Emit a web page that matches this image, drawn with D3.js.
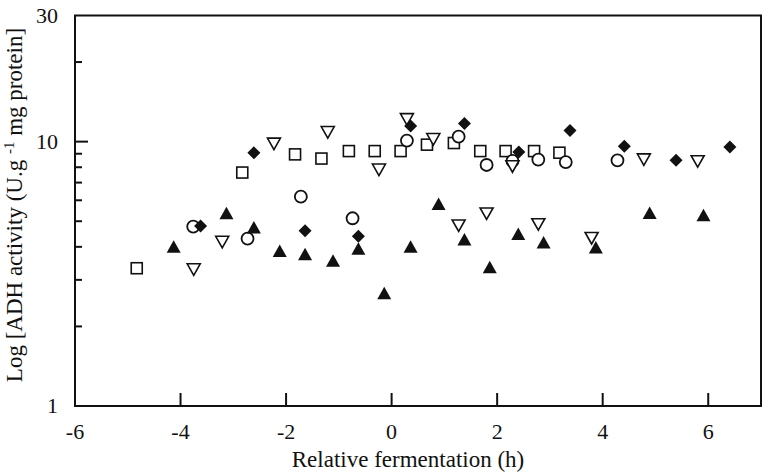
<!DOCTYPE html>
<html>
<head>
<meta charset="utf-8">
<script src="https://cdn.jsdelivr.net/npm/d3@7"></script>
<style>
  body { margin: 0; background: #fff; }
  svg { display: block; }
  svg text { font-family: "Liberation Serif", "DejaVu Serif", serif; fill: #111; }
  .tick-label { font-size: 22px; }
  .axis-title { font-size: 23px; }
</style>
</head>
<body>
<div id="chart"></div>
<script>
// Relative fermentation (h) and ADH activity, one array pair per series
const squareX = [-4.83, -2.83, -1.83, -1.33, -0.81, -0.32, 0.17, 0.67, 1.18, 1.68, 2.16, 2.70, 3.18];
const squareY = [3.32, 7.64, 8.95, 8.63, 9.21, 9.21, 9.21, 9.74, 9.88, 9.21, 9.21, 9.21, 9.08];

const circleX = [-3.76, -2.73, -1.72, -0.74, 0.29, 1.27, 1.80, 2.29, 2.78, 3.30, 4.28];
const circleY = [4.77, 4.30, 6.19, 5.13, 10.09, 10.44, 8.16, 8.45, 8.55, 8.37, 8.50];

const downTriX = [-3.75, -3.21, -2.23, -1.21, -0.24, 0.29, 0.79, 1.27, 1.80, 2.29, 2.78, 3.79, 4.78, 5.80];
const downTriY = [3.29, 4.18, 9.83, 10.87, 7.84, 12.17, 10.23, 4.82, 5.35, 8.07, 4.87, 4.32, 8.57, 8.43];

const diamondX = [-3.62, -2.61, -1.64, -0.63, 0.36, 1.38, 2.41, 3.38, 4.41, 5.39, 6.41];
const diamondY = [4.80, 9.07, 4.60, 4.39, 11.45, 11.70, 9.13, 11.03, 9.60, 8.50, 9.54];

const triX = [-4.13, -3.13, -2.61, -2.12, -1.64, -1.11, -0.63, -0.14, 0.36, 0.89, 1.38, 1.86, 2.40, 2.88, 3.87, 4.89, 5.91];
const triY = [4.00, 5.36, 4.73, 3.86, 3.75, 3.54, 3.93, 2.67, 4.00, 5.81, 4.26, 3.35, 4.47, 4.15, 3.98, 5.37, 5.27];

const xTicks = [-6, -4, -2, 0, 2, 4, 6];
const yLabels = [1, 10, 30];
const yMinorTicks = [2, 3, 4, 5, 6, 7, 8, 9, 20];

const width = 769, height = 472;
const margin = { top: 15.5, right: 8, bottom: 66, left: 75 };

const x = d3.scaleLinear().domain([-6, 7]).range([margin.left, width - margin.right]);
const y = d3.scaleLog().domain([1, 30]).range([height - margin.bottom, margin.top]);

const svg = d3.select("#chart").append("svg")
  .attr("width", width)
  .attr("height", height);

// frame
svg.append("rect")
  .attr("x", x(-6)).attr("y", y(30))
  .attr("width", x(7) - x(-6)).attr("height", y(1) - y(30))
  .attr("fill", "none").attr("stroke", "#111").attr("stroke-width", 2);

// x ticks (inward) and labels
const gX = svg.append("g");
gX.selectAll("line")
  .data(xTicks.filter((d) => d !== -6))
  .join("line")
  .attr("x1", (d) => x(d)).attr("x2", (d) => x(d))
  .attr("y1", y(1)).attr("y2", y(1) - 13)
  .attr("stroke", "#111").attr("stroke-width", 2);
gX.selectAll("text")
  .data(xTicks)
  .join("text")
  .attr("class", "tick-label")
  .attr("x", (d) => x(d))
  .attr("y", y(1) + 33)
  .attr("text-anchor", "middle")
  .text((d) => d);

// y ticks
const gY = svg.append("g");
gY.selectAll("line.major")
  .data([10])
  .join("line")
  .attr("class", "major")
  .attr("x1", x(-6)).attr("x2", x(-6) + 13)
  .attr("y1", (d) => y(d)).attr("y2", (d) => y(d))
  .attr("stroke", "#111").attr("stroke-width", 2);
gY.selectAll("line.minor")
  .data(yMinorTicks)
  .join("line")
  .attr("class", "minor")
  .attr("x1", x(-6)).attr("x2", x(-6) + 7)
  .attr("y1", (d) => y(d)).attr("y2", (d) => y(d))
  .attr("stroke", "#111").attr("stroke-width", 2);
gY.selectAll("text")
  .data(yLabels)
  .join("text")
  .attr("class", "tick-label")
  .attr("x", x(-6) - 17)
  .attr("y", (d) => y(d) + 7)
  .attr("text-anchor", "end")
  .text((d) => d);

// axis titles
svg.append("text")
  .attr("class", "axis-title")
  .attr("x", 408)
  .attr("y", height - 5)
  .attr("text-anchor", "middle")
  .text("Relative fermentation (h)");

const yTitle = svg.append("text")
  .attr("class", "axis-title")
  .attr("transform", "translate(22,205) rotate(-90)")
  .attr("text-anchor", "middle");
yTitle.append("tspan").text("Log [ADH activity (U.g ");
yTitle.append("tspan").attr("dy", -8).attr("font-size", 15).text("-1");
yTitle.append("tspan").attr("dy", 8).text(" mg protein]");

// markers
const pts = (xs, ys) => xs.map((d, i) => [d, ys[i]]);
const gMarks = svg.append("g");

gMarks.selectAll("rect.sq")
  .data(pts(squareX, squareY))
  .join("rect")
  .attr("class", "sq")
  .attr("x", (d) => x(d[0]) - 5.5).attr("y", (d) => y(d[1]) - 5.5)
  .attr("width", 11).attr("height", 11)
  .attr("fill", "#fff").attr("stroke", "#111").attr("stroke-width", 1.6);

gMarks.selectAll("circle.ci")
  .data(pts(circleX, circleY))
  .join("circle")
  .attr("class", "ci")
  .attr("cx", (d) => x(d[0])).attr("cy", (d) => y(d[1]))
  .attr("r", 6)
  .attr("fill", "#fff").attr("stroke", "#111").attr("stroke-width", 1.8);

gMarks.selectAll("path.dt")
  .data(pts(downTriX, downTriY))
  .join("path")
  .attr("class", "dt")
  .attr("transform", (d) => `translate(${x(d[0])},${y(d[1])})`)
  .attr("d", "M-6.5,-5.5L6.5,-5.5L0,6z")
  .attr("fill", "#fff").attr("stroke", "#111").attr("stroke-width", 1.6);

gMarks.selectAll("path.dm")
  .data(pts(diamondX, diamondY))
  .join("path")
  .attr("class", "dm")
  .attr("transform", (d) => `translate(${x(d[0])},${y(d[1])})`)
  .attr("d", "M0,-6.5L6.5,0L0,6.5L-6.5,0z")
  .attr("fill", "#111");

gMarks.selectAll("path.tr")
  .data(pts(triX, triY))
  .join("path")
  .attr("class", "tr")
  .attr("transform", (d) => `translate(${x(d[0])},${y(d[1])})`)
  .attr("d", "M0,-6.5L7,6L-7,6z")
  .attr("fill", "#111");
</script>
</body>
</html>
